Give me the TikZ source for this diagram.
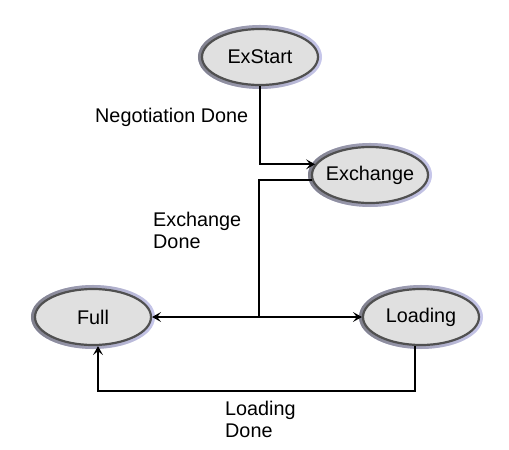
\documentclass[tikz,border=0pt]{standalone}
\usepackage{fontspec}
\setmainfont{Liberation Sans}
\usetikzlibrary{positioning,arrows.meta,shapes.geometric,fadings}
\definecolor{statefill}{RGB}{224,224,224}
\definecolor{stateline}{RGB}{80,80,80}
\definecolor{halodark}{RGB}{128,128,140}
\definecolor{halolight}{RGB}{200,200,236}
\tikzset{
    state/.style={ellipse,draw=stateline,line width=2.2pt,fill=statefill,minimum width=116pt,minimum height=56pt,inner sep=0pt,inner xsep=-5pt,font=\fontsize{19.8}{22}\selectfont,
        preaction={draw=halolight,line width=8pt},
        preaction={draw=halodark,line width=8pt,path fading=east}},
    arr/.style={-{Stealth[length=9pt,width=10pt,inset=4pt]},line width=1.8pt},
    wire/.style={line width=1.8pt},
    lbl/.style={anchor=west,align=left,inner sep=0pt,font=\fontsize{19.8}{22}\selectfont},
}
\begin{document}
\begin{tikzpicture}[x=1pt,y=-1pt]
\useasboundingbox (0,0) rectangle (509,450);
% states
\node[state] (exstart) at (260,57) {ExStart};
\node[state] (exchange) at (370,175) {Exchange};
\node[state] (full) at (93,317) {Full};
\node[state] (loading) at (421,317) {Loading};
% corners of the wires
\coordinate (split) at (259,317);
\coordinate (loopR) at (415,391);
\coordinate (loopL) at (98,391);
% transitions
\draw[arr] (exstart.south) |- (exchange.169.5);
\draw[wire] (exchange.185) -| (split);
\draw[arr] (split) -- (full);
\draw[arr] (split) -- (loading);
\draw[arr] (loading.south -| loopR) -- (loopR) -- (loopL) -- (full.south -| loopL);
% labels
\node[lbl] (negdone) at (95,117) {Negotiation Done};
\node[lbl] (exdone) at (153,230) {Exchange\\Done};
\node[lbl] (lddone) at (225,419) {Loading\\Done};
\end{tikzpicture}
\end{document}
